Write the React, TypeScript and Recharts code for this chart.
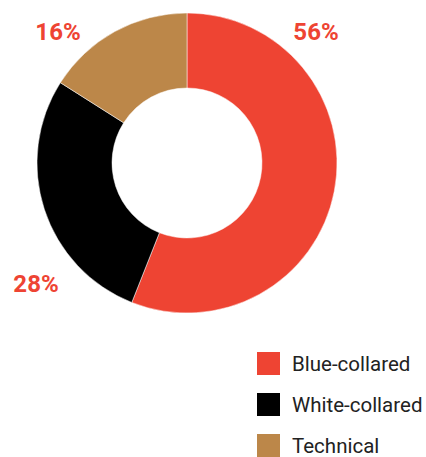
import React from "react";
import { PieChart, Pie, Cell } from "recharts";

const categories = ["Blue-collared", "White-collared", "Technical"];
const shares = [56, 28, 16];
const colors = ["#EE4433", "#000000", "#BC8749"];

const data = categories.map((name, i) => ({ name, value: shares[i] }));

// label anchor points (chart pixels) for each slice's percentage text
const labelPos = [
  { x: 316, y: 32 },
  { x: 36, y: 284 },
  { x: 58, y: 32 },
];

const renderLabel = (props: any) => {
  const i = props.index;
  const p = labelPos[i];
  return (
    <text
      x={p.x}
      y={p.y}
      textAnchor="middle"
      dominantBaseline="central"
      fill="#EE4433"
      fontFamily="Roboto, 'Liberation Sans', sans-serif"
      fontWeight={700}
      fontSize={24}
    >
      {`${shares[i]}%`}
    </text>
  );
};

export default function App() {
  return (
    <div style={{ position: "absolute", left: 0, top: 0, width: 426, height: 457, background: "#fff" }}>
      <PieChart width={426} height={457} margin={{ top: 0, right: 0, bottom: 0, left: 0 }}>
        <Pie
          data={data}
          dataKey="value"
          nameKey="name"
          cx={187}
          cy={163}
          innerRadius={75}
          outerRadius={150}
          startAngle={90}
          endAngle={-270}
          stroke="#ffffff"
          strokeWidth={0.5}
          label={renderLabel}
          labelLine={false}
          isAnimationActive={false}
        >
          {data.map((d, i) => (
            <Cell key={d.name} fill={colors[i]} />
          ))}
        </Pie>
      </PieChart>
      <div
        style={{
          position: "absolute",
          left: 257,
          top: 352,
          fontFamily: "Roboto, 'Liberation Sans', sans-serif",
          fontSize: 20.5,
          color: "#222",
        }}
      >
        {categories.map((c, i) => (
          <div key={c} style={{ display: "flex", alignItems: "center", height: 23, marginBottom: i < 2 ? 18 : 0 }}>
            <div style={{ width: 23, height: 23, background: colors[i], marginRight: 12, flexShrink: 0 }} />
            <span style={{ whiteSpace: "nowrap" }}>{c}</span>
          </div>
        ))}
      </div>
    </div>
  );
}
